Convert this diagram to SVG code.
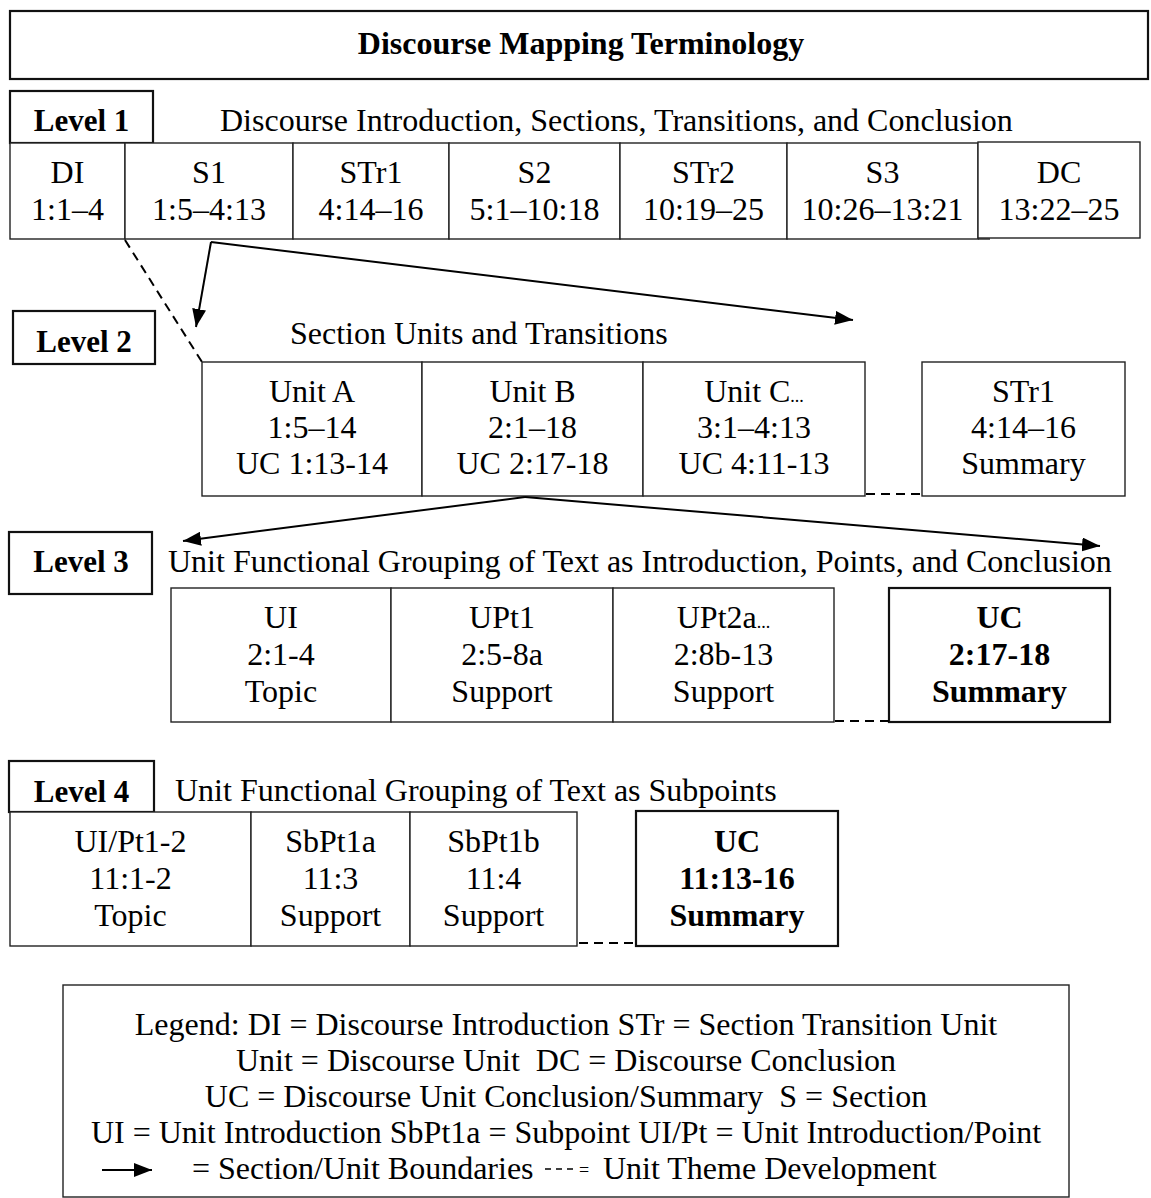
<svg xmlns="http://www.w3.org/2000/svg" width="1151" height="1198" viewBox="0 0 1151 1198">
  <style>
    text { font-family: "Liberation Serif", "Times New Roman", serif; fill: #000; }
    .t { font-size: 32px; text-anchor: middle; }
    .h { font-size: 32px; }
    .b { font-size: 31px; font-weight: bold; text-anchor: middle; }
    .title { font-size: 32px; font-weight: bold; text-anchor: middle; }
    .cell { fill: #fff; stroke: #222; stroke-width: 1.4; }
    .strong { fill: #fff; stroke: #111; stroke-width: 2.2; }
    .conn { fill: none; stroke: #000; stroke-width: 2; }
    .dash { fill: none; stroke: #000; stroke-width: 2; stroke-dasharray: 9 6; }
    .dots { font-size: 18px; }
  </style>
  <defs>
    <marker id="arrow" viewBox="0 0 18 14" refX="18" refY="7" markerWidth="18" markerHeight="14" markerUnits="userSpaceOnUse" orient="auto">
      <path d="M0,0 L18,7 L0,14 z" fill="#000"/>
    </marker>
  </defs>

  <rect width="1151" height="1198" fill="#fff"/>

  <!-- Title banner -->
  <g id="title">
    <rect class="strong" x="10" y="11" width="1138" height="68"/>
    <text class="title" x="581" y="54">Discourse Mapping Terminology</text>
  </g>

  <!-- Level 1 -->
  <g id="level1-label">
    <rect class="strong" x="10" y="91" width="143" height="52"/>
    <text class="b" x="81.5" y="131">Level 1</text>
  </g>
  <text class="h" x="220" y="131">Discourse Introduction, Sections, Transitions, and Conclusion</text>

  <g id="l1-DI">
    <rect class="cell" x="10" y="143" width="115" height="96"/>
    <text class="t" x="67.5" y="183">DI</text>
    <text class="t" x="67.5" y="220">1:1–4</text>
  </g>
  <g id="l1-S1">
    <rect class="cell" x="125" y="143" width="168" height="96"/>
    <text class="t" x="209" y="183">S1</text>
    <text class="t" x="209" y="220">1:5–4:13</text>
  </g>
  <g id="l1-STr1">
    <rect class="cell" x="293" y="143" width="156" height="96"/>
    <text class="t" x="371" y="183">STr1</text>
    <text class="t" x="371" y="220">4:14–16</text>
  </g>
  <g id="l1-S2">
    <rect class="cell" x="449" y="143" width="171" height="96"/>
    <text class="t" x="534.5" y="183">S2</text>
    <text class="t" x="534.5" y="220">5:1–10:18</text>
  </g>
  <g id="l1-STr2">
    <rect class="cell" x="620" y="143" width="167" height="96"/>
    <text class="t" x="703.5" y="183">STr2</text>
    <text class="t" x="703.5" y="220">10:19–25</text>
  </g>
  <g id="l1-S3">
    <rect class="cell" x="787" y="143" width="191" height="96"/>
    <line x1="978" y1="239" x2="990" y2="239" stroke="#222" stroke-width="1.4"/>
    <text class="t" x="882.5" y="183">S3</text>
    <text class="t" x="882.5" y="220">10:26–13:21</text>
  </g>
  <g id="l1-DC">
    <rect class="cell" x="978" y="142" width="162" height="96"/>
    <text class="t" x="1059" y="183">DC</text>
    <text class="t" x="1059" y="220">13:22–25</text>
  </g>

  <!-- Level 2 -->
  <g id="level2-label">
    <rect class="strong" x="13" y="311" width="142" height="53"/>
    <text class="b" x="84" y="352">Level 2</text>
  </g>
  <text class="h" x="290" y="344">Section Units and Transitions</text>

  <g id="l2-unitA">
    <rect class="cell" x="202" y="362" width="220" height="134"/>
    <text class="t" x="312" y="402">Unit A</text>
    <text class="t" x="312" y="438">1:5–14</text>
    <text class="t" x="312" y="474">UC 1:13-14</text>
  </g>
  <g id="l2-unitB">
    <rect class="cell" x="422" y="362" width="221" height="134"/>
    <text class="t" x="532.5" y="402">Unit B</text>
    <text class="t" x="532.5" y="438">2:1–18</text>
    <text class="t" x="532.5" y="474">UC 2:17-18</text>
  </g>
  <g id="l2-unitC">
    <rect class="cell" x="643" y="362" width="222" height="134"/>
    <text class="t" x="754" y="402">Unit C<tspan class="dots">...</tspan></text>
    <text class="t" x="754" y="438">3:1–4:13</text>
    <text class="t" x="754" y="474">UC 4:11-13</text>
  </g>
  <g id="l2-STr1">
    <rect class="cell" x="922" y="362" width="203" height="134"/>
    <text class="t" x="1023.5" y="402">STr1</text>
    <text class="t" x="1023.5" y="438">4:14–16</text>
    <text class="t" x="1023.5" y="474">Summary</text>
  </g>

  <!-- Level 3 -->
  <g id="level3-label">
    <rect class="strong" x="9" y="532" width="143" height="62"/>
    <text class="b" x="81" y="572">Level 3</text>
  </g>
  <text class="h" x="168" y="572">Unit Functional Grouping of Text as Introduction, Points, and Conclusion</text>

  <g id="l3-UI">
    <rect class="cell" x="171" y="588" width="220" height="134"/>
    <text class="t" x="281" y="628">UI</text>
    <text class="t" x="281" y="665">2:1-4</text>
    <text class="t" x="281" y="702">Topic</text>
  </g>
  <g id="l3-UPt1">
    <rect class="cell" x="391" y="588" width="222" height="134"/>
    <text class="t" x="502" y="628">UPt1</text>
    <text class="t" x="502" y="665">2:5-8a</text>
    <text class="t" x="502" y="702">Support</text>
  </g>
  <g id="l3-UPt2a">
    <rect class="cell" x="613" y="588" width="221" height="134"/>
    <text class="t" x="723.5" y="628">UPt2a<tspan class="dots">...</tspan></text>
    <text class="t" x="723.5" y="665">2:8b-13</text>
    <text class="t" x="723.5" y="702">Support</text>
  </g>
  <g id="l3-UC">
    <rect class="strong" x="889" y="588" width="221" height="134"/>
    <text class="title" x="999.5" y="628">UC</text>
    <text class="title" x="999.5" y="665">2:17-18</text>
    <text class="title" x="999.5" y="702">Summary</text>
  </g>

  <!-- Level 4 -->
  <g id="level4-label">
    <rect class="strong" x="9" y="761" width="145" height="51"/>
    <text class="b" x="81.5" y="802">Level 4</text>
  </g>
  <text class="h" x="175" y="801">Unit Functional Grouping of Text as Subpoints</text>

  <g id="l4-UIPt">
    <rect class="cell" x="10" y="812" width="241" height="134"/>
    <text class="t" x="130.5" y="852">UI/Pt1-2</text>
    <text class="t" x="130.5" y="889">11:1-2</text>
    <text class="t" x="130.5" y="926">Topic</text>
  </g>
  <g id="l4-SbPt1a">
    <rect class="cell" x="251" y="812" width="159" height="134"/>
    <text class="t" x="330.5" y="852">SbPt1a</text>
    <text class="t" x="330.5" y="889">11:3</text>
    <text class="t" x="330.5" y="926">Support</text>
  </g>
  <g id="l4-SbPt1b">
    <rect class="cell" x="410" y="812" width="167" height="134"/>
    <text class="t" x="493.5" y="852">SbPt1b</text>
    <text class="t" x="493.5" y="889">11:4</text>
    <text class="t" x="493.5" y="926">Support</text>
  </g>
  <g id="l4-UC">
    <rect class="strong" x="636" y="811" width="202" height="135"/>
    <text class="title" x="737" y="852">UC</text>
    <text class="title" x="737" y="889">11:13-16</text>
    <text class="title" x="737" y="926">Summary</text>
  </g>

  <!-- Connectors -->
  <g id="connectors">
    <line class="conn" x1="211" y1="242" x2="196" y2="327" marker-end="url(#arrow)"/>
    <line class="conn" x1="211" y1="242" x2="853" y2="320" marker-end="url(#arrow)"/>
    <line class="dash" x1="125" y1="240" x2="202" y2="362"/>
    <line class="conn" x1="525" y1="497" x2="183" y2="541" marker-end="url(#arrow)"/>
    <line class="conn" x1="525" y1="497" x2="1100" y2="546" marker-end="url(#arrow)"/>
    <line class="dash" x1="866" y1="494" x2="922" y2="494"/>
    <line class="dash" x1="835" y1="721" x2="889" y2="721"/>
    <line class="dash" x1="579" y1="943" x2="636" y2="943"/>
  </g>

  <!-- Legend -->
  <g id="legend">
    <rect class="cell" x="63" y="985" width="1006" height="212"/>
    <text class="t" x="566" y="1035">Legend: DI = Discourse Introduction STr = Section Transition Unit</text>
    <text class="t" x="566" y="1071" xml:space="preserve">Unit = Discourse Unit  DC = Discourse Conclusion</text>
    <text class="t" x="566" y="1107" xml:space="preserve">UC = Discourse Unit Conclusion/Summary  S = Section</text>
    <text class="t" x="566" y="1143">UI = Unit Introduction SbPt1a = Subpoint UI/Pt = Unit Introduction/Point</text>
    <line class="conn" x1="102" y1="1170" x2="152" y2="1170" marker-end="url(#arrow)"/>
    <text class="h" x="192" y="1179">= Section/Unit Boundaries</text>
    <line x1="545" y1="1169" x2="577" y2="1169" stroke="#000" stroke-width="1.5" stroke-dasharray="6 5"/>
    <text x="579" y="1176" style="font-size:18px">=</text>
    <text class="h" x="603" y="1179">Unit Theme Development</text>
  </g>
</svg>
